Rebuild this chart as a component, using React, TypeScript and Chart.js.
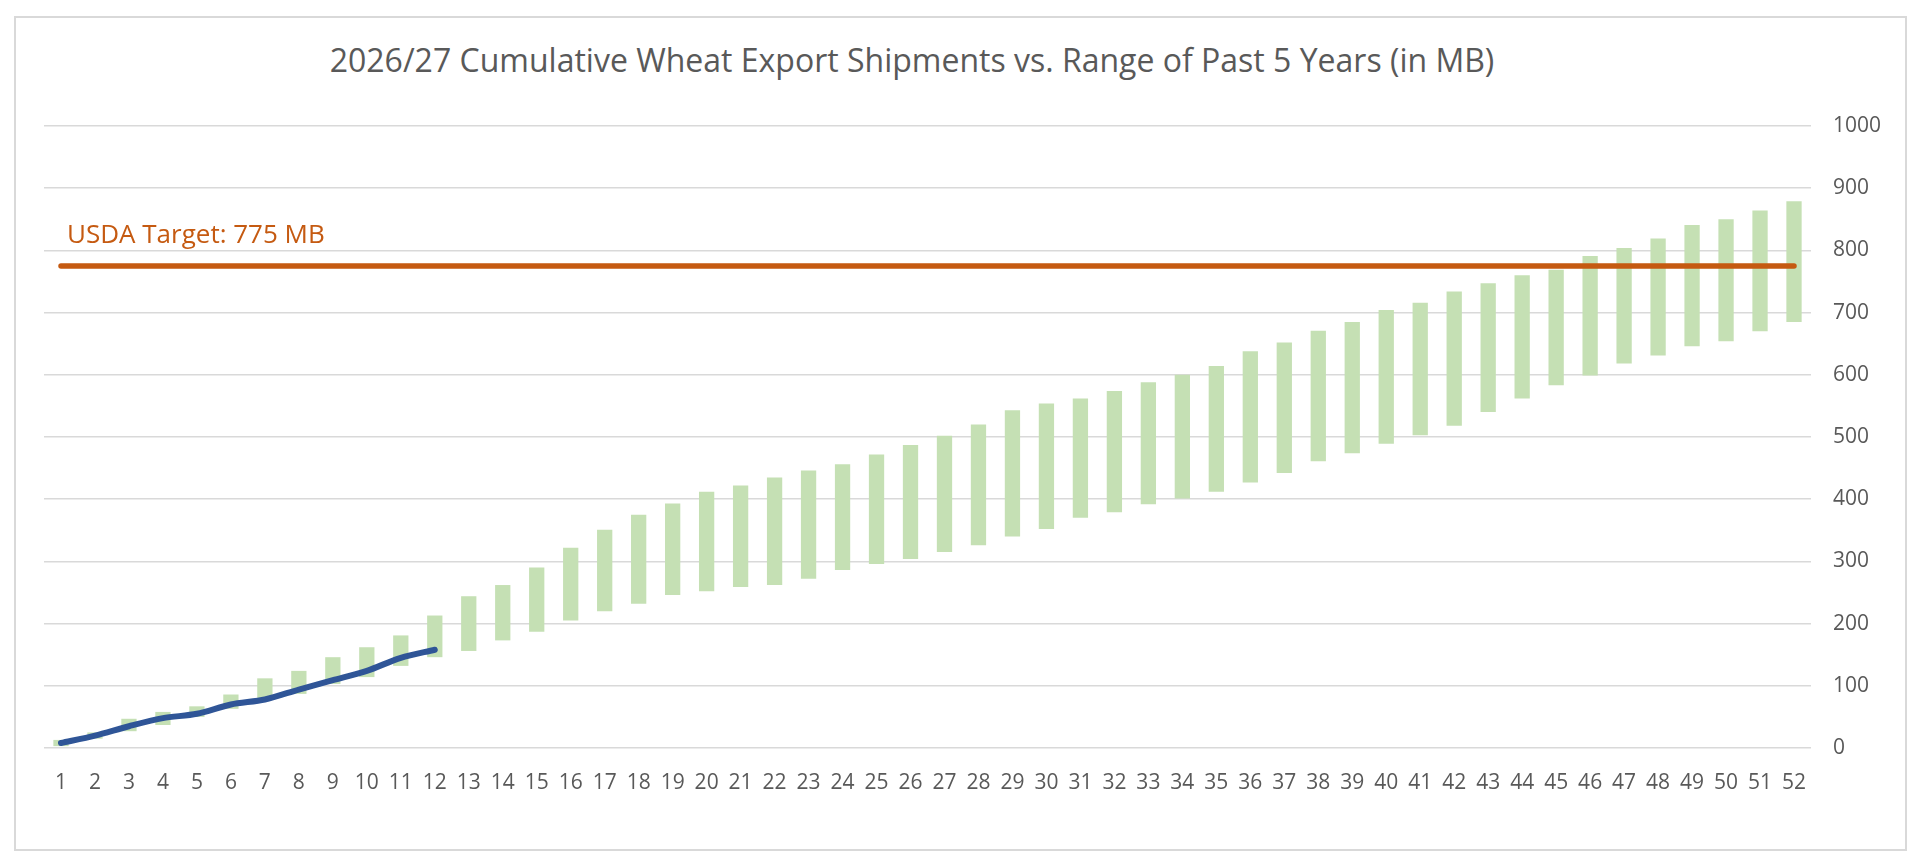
import { useEffect, useRef } from "react"
import { Chart, registerables } from "chart.js"

Chart.register(...registerables)

// marketing-year weeks
const weeks = [
  "1", "2", "3", "4", "5", "6", "7", "8", "9", "10", "11", "12", "13",
  "14", "15", "16", "17", "18", "19", "20", "21", "22", "23", "24", "25", "26",
  "27", "28", "29", "30", "31", "32", "33", "34", "35", "36", "37", "38", "39",
  "40", "41", "42", "43", "44", "45", "46", "47", "48", "49", "50", "51", "52",
]

// past 5 years range, low and high (MB)
const rangeLow = [
  3, 15, 27, 37, 50, 63, 77, 87, 103, 114, 132, 146, 156,
  173, 187, 205, 220, 232, 246, 252, 259, 262, 272, 286, 296, 304,
  315, 326, 340, 352, 370, 379, 392, 401, 412, 427, 442, 461, 474,
  489, 503, 518, 540, 562, 583, 599, 618, 631, 646, 654, 670, 685,
]
const rangeHigh = [
  13, 25, 47, 58, 67, 86, 112, 124, 146, 162, 181, 213, 244,
  262, 290, 322, 351, 375, 393, 412, 422, 435, 446, 456, 472, 487,
  502, 520, 543, 554, 562, 574, 588, 600, 614, 638, 652, 671, 685,
  704, 716, 734, 747, 760, 769, 791, 804, 819, 841, 850, 864, 879,
]

// 2026/27 cumulative shipments so far
const current = [8, 20, 35, 48, 55, 70, 78, 94, 109, 124, 145, 158]

const USDA_TARGET = 775
const yTicks = [0, 100, 200, 300, 400, 500, 600, 700, 800, 900, 1000]

const FONT = "'Open Sans', 'DejaVu Sans', sans-serif"

export default function App() {
  const chartRef = useRef<HTMLCanvasElement>(null)
  const chartInstance = useRef<Chart | null>(null)

  useEffect(() => {
    if (!chartRef.current) return
    if (chartInstance.current) chartInstance.current.destroy()
    const ctx = chartRef.current.getContext("2d")
    if (!ctx) return

    // label above the target line
    const targetLabel = {
      id: "targetLabel",
      afterDatasetsDraw(chart: any) {
        const { ctx, chartArea, scales } = chart
        const y = scales.y.getPixelForValue(USDA_TARGET)
        ctx.save()
        ctx.fillStyle = "#C55A11"
        ctx.font = `26px ${FONT}`
        ctx.textAlign = "left"
        ctx.textBaseline = "alphabetic"
        ctx.fillText(`USDA Target: ${USDA_TARGET} MB`, chartArea.left + 23, y - 23)
        ctx.restore()
      },
    }

    chartInstance.current = new Chart(ctx, {
      type: "bar",
      data: {
        labels: weeks,
        datasets: [
          {
            type: "line",
            label: "2026/27",
            data: current,
            borderColor: "#2F5597",
            borderWidth: 6,
            borderCapStyle: "round",
            borderJoinStyle: "round",
            pointRadius: 0,
            tension: 0.3,
            order: 0,
          },
          {
            type: "line",
            label: "USDA Target",
            data: weeks.map(() => USDA_TARGET),
            borderColor: "#C55A11",
            borderWidth: 5.5,
            borderCapStyle: "round",
            pointRadius: 0,
            order: 1,
          },
          {
            type: "bar",
            label: "Range of Past 5 Years",
            data: rangeLow.map((lo, i) => [lo, rangeHigh[i]]),
            backgroundColor: "#C5E0B4",
            borderWidth: 0,
            borderSkipped: false,
            categoryPercentage: 1,
            barPercentage: 0.45,
            order: 2,
          },
        ] as any,
      },
      options: {
        animation: false,
        responsive: false,
        maintainAspectRatio: false,
        layout: { padding: { left: 44, top: 126, right: 0, bottom: 0 } },
        plugins: {
          legend: { display: false },
          tooltip: { enabled: false },
        },
        scales: {
          x: {
            grid: { display: false },
            border: { display: false },
            ticks: {
              color: "#595959",
              font: { family: FONT, size: 21 },
              autoSkip: false,
              maxRotation: 0,
              padding: 14,
            },
            afterFit: (scale: any) => {
              scale.height = 116
            },
          },
          y: {
            position: "right",
            min: 0,
            max: 1000,
            afterBuildTicks: (scale: any) => {
              scale.ticks = yTicks.map((v) => ({ value: v }))
            },
            grid: { color: "#D9D9D9", lineWidth: 1.5, drawTicks: false },
            border: { display: false },
            ticks: {
              color: "#595959",
              font: { family: FONT, size: 21 },
              padding: 22,
              callback: (v: any) => String(v),
            },
            afterFit: (scale: any) => {
              scale.width = 109
            },
          },
        },
      },
      plugins: [targetLabel],
    })

    return () => {
      if (chartInstance.current) {
        chartInstance.current.destroy()
        chartInstance.current = null
      }
    }
  }, [])

  return (
    <div
      style={{
        position: "fixed",
        left: 0,
        top: 0,
        width: 1920,
        height: 864,
        background: "#fff",
      }}
    >
      <div
        style={{
          position: "absolute",
          left: 14,
          top: 16,
          width: 1889,
          height: 831,
          border: "2px solid #D9D9D9",
        }}
      />
      <div
        style={{
          position: "absolute",
          left: 0,
          width: 1824,
          top: 38,
          textAlign: "center",
          fontFamily: FONT,
          fontSize: 32,
          color: "#595959",
          lineHeight: "44px",
          whiteSpace: "nowrap",
        }}
      >
        2026/27 Cumulative Wheat Export Shipments vs. Range of Past 5 Years (in MB)
      </div>
      <canvas
        ref={chartRef}
        width={1920}
        height={864}
        style={{ position: "absolute", left: 0, top: 0, width: 1920, height: 864 }}
      />
    </div>
  )
}
